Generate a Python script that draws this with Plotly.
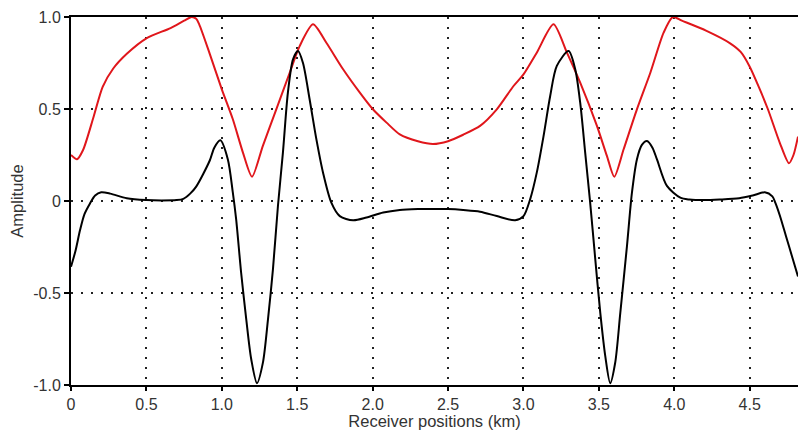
import plotly.graph_objects as go

# receiver positions (km) and amplitudes
black_x = [0.0, 0.03, 0.06, 0.09, 0.126, 0.16, 0.2, 0.26, 0.37, 0.5, 0.6, 0.7, 0.745, 0.79, 0.83,
           0.92, 0.95, 0.99, 1.04, 1.073, 1.095, 1.128, 1.162, 1.195, 1.233, 1.272, 1.306, 1.339,
           1.372, 1.405, 1.438, 1.472, 1.505, 1.538, 1.582, 1.627, 1.671, 1.726, 1.782, 1.87, 1.959,
           2.07, 2.18, 2.3, 2.4, 2.5, 2.6, 2.712, 2.823, 2.945, 3.0, 3.044, 3.088, 3.133, 3.177,
           3.221, 3.299, 3.343, 3.376, 3.409, 3.442, 3.476, 3.509, 3.542, 3.575, 3.608, 3.642,
           3.686, 3.719, 3.752, 3.785, 3.819, 3.855, 3.885, 3.951, 4.04, 4.1, 4.2, 4.3, 4.43, 4.52,
           4.6, 4.65, 4.67, 4.70, 4.74, 4.78, 4.82]
black_y = [-0.357, -0.27, -0.158, -0.07, -0.013, 0.03, 0.047, 0.04, 0.015, 0.005, 0.003, 0.005,
           0.012, 0.04, 0.078, 0.22, 0.29, 0.33, 0.226, 0.045, -0.10, -0.39, -0.643, -0.86, -0.99,
           -0.88, -0.643, -0.37, -0.027, 0.263, 0.589, 0.77, 0.815, 0.75, 0.553, 0.335, 0.154,
           -0.009, -0.082, -0.105, -0.09, -0.063, -0.049, -0.044, -0.043, -0.044, -0.049, -0.058,
           -0.082, -0.105, -0.082, 0.009, 0.154, 0.353, 0.571, 0.734, 0.815, 0.716, 0.534, 0.263,
           -0.009, -0.317, -0.607, -0.842, -0.99, -0.879, -0.607, -0.245, 0.045, 0.226, 0.305,
           0.326, 0.29, 0.226, 0.082, 0.018, 0.008, 0.005, 0.008, 0.015, 0.03, 0.047, 0.025, -0.01,
           -0.08, -0.19, -0.30, -0.41]

red_x = [0.0, 0.04, 0.08, 0.15, 0.21, 0.28, 0.37, 0.5, 0.66, 0.75, 0.8, 0.83, 0.85, 0.92, 1.0,
         1.073, 1.14, 1.2, 1.272, 1.361, 1.45, 1.516, 1.605, 1.693, 1.804, 1.915, 2.0, 2.092, 2.18,
         2.3, 2.4, 2.5, 2.6, 2.712, 2.823, 2.934, 3.0, 3.088, 3.199, 3.288, 3.376, 3.487, 3.553,
         3.602, 3.664, 3.752, 3.841, 3.929, 3.99, 4.05, 4.21, 4.37, 4.44, 4.5, 4.56, 4.62, 4.70,
         4.76, 4.79, 4.82]
red_y = [0.25, 0.227, 0.277, 0.458, 0.62, 0.72, 0.80, 0.884, 0.94, 0.98, 1.0, 0.99, 0.96, 0.80,
         0.607, 0.444, 0.263, 0.132, 0.30, 0.498, 0.697, 0.842, 0.96, 0.86, 0.716, 0.589, 0.50,
         0.426, 0.362, 0.325, 0.31, 0.325, 0.36, 0.408, 0.498, 0.625, 0.688, 0.806, 0.96, 0.806,
         0.643, 0.408, 0.245, 0.132, 0.281, 0.498, 0.697, 0.915, 1.0, 0.98, 0.926, 0.857, 0.81,
         0.73, 0.62, 0.5, 0.315, 0.205, 0.25, 0.35]

x_ticks = [0, 0.5, 1.0, 1.5, 2.0, 2.5, 3.0, 3.5, 4.0, 4.5]
x_labels = ["0", "0.5", "1.0", "1.5", "2.0", "2.5", "3.0", "3.5", "4.0", "4.5"]
y_ticks = [-1.0, -0.5, 0, 0.5, 1.0]
y_labels = ["-1.0", "-0.5", "0", "0.5", "1.0"]

fig = go.Figure()
fig.add_trace(go.Scatter(x=red_x, y=red_y, mode="lines",
                         line=dict(color="#e0161b", width=2, shape="spline", smoothing=0.7)))
fig.add_trace(go.Scatter(x=black_x, y=black_y, mode="lines",
                         line=dict(color="black", width=2, shape="spline", smoothing=0.8)))

# dotted grid, black frame on left/bottom/top
fig.update_xaxes(range=[0, 4.82], tickvals=x_ticks, ticktext=x_labels,
                 showline=True, linecolor="black", linewidth=2, mirror=True,
                 ticks="outside", ticklen=4, tickwidth=1.5, tickcolor="black",
                 tickfont=dict(size=16),
                 showgrid=True, gridcolor="#222", gridwidth=2, griddash="2px,8px",
                 zeroline=False, automargin=False,
                 title=dict(text="Receiver positions (km)", standoff=0, font=dict(size=16.5)))
fig.update_yaxes(range=[-1, 1], tickvals=y_ticks, ticktext=y_labels,
                 showline=True, linecolor="black", linewidth=2, mirror=False,
                 ticks="outside", ticklen=5, tickwidth=1.5, tickcolor="black",
                 tickfont=dict(size=16),
                 showgrid=True, gridcolor="#222", gridwidth=2, griddash="2px,8px",
                 zeroline=False, automargin=False,
                 title=dict(text="Amplitude", standoff=5, font=dict(size=16.5)))

fig.update_layout(width=799, height=430,
                  margin=dict(l=71, r=1, t=17, b=45),
                  plot_bgcolor="white", paper_bgcolor="white",
                  showlegend=False,
                  font=dict(family="Liberation Sans, Arial, sans-serif", size=16, color="#333"))

# page body has a default 8px margin; drop it so the figure sits at the window's corner
fig.write_html("out.html", config={"displayModeBar": False},
               post_script="document.body.style.margin='0';")
